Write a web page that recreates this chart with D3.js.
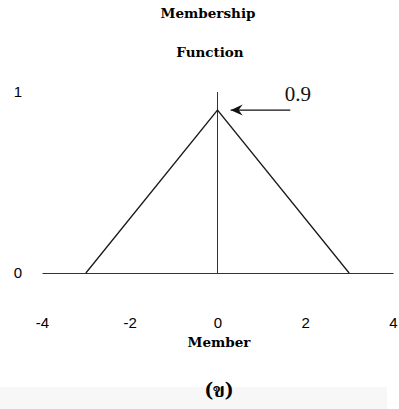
<!DOCTYPE html>
<html>
<head>
<meta charset="utf-8">
<script src="https://cdn.jsdelivr.net/npm/d3@7"></script>
<style>
  html, body { margin: 0; padding: 0; background: #fff; }
</style>
</head>
<body>
<div id="chart"></div>
<script>
// Données du graphique
const xTicks = [-4, -2, 0, 2, 4];
const yTicks = [0, 1];
const memberX = [-3, 0, 3];
const membership = [0, 0.9, 0];
const peakLabel = "0.9";

const W = 399, H = 409;

const svg = d3.select("#chart")
    .append("svg")
    .attr("width", W)
    .attr("height", H);

// bande grise du bas (scan)
svg.append("rect")
    .attr("x", 0).attr("y", 387)
    .attr("width", 387).attr("height", 22)
    .attr("fill", "#f7f7f7");

// Échelles
const x = d3.scaleLinear().domain([-4, 4]).range([42, 393]);
const y = d3.scaleLinear().domain([0, 1]).range([273, 92]);

const sans = "'Liberation Sans', Arial, sans-serif";

// Axe X
const gx = svg.append("g")
    .attr("transform", `translate(0,${y(0)})`)
    .call(d3.axisBottom(x).tickValues(xTicks).tickSize(0).tickPadding(44).tickFormat(d => String(d)));
gx.attr("font-family", sans).attr("font-size", 15);
gx.select(".domain").attr("stroke", "#333").attr("stroke-width", 1);
gx.selectAll("text").style("fill", "#000");

// Axe Y
const gy = svg.append("g")
    .attr("transform", `translate(${x(-4)},0)`)
    .call(d3.axisLeft(y).tickValues(yTicks).tickSize(0).tickFormat(d => String(d)));
gy.attr("font-family", sans).attr("font-size", 15);
gy.select(".domain").remove();
gy.selectAll("text")
    .attr("x", -24)
    .style("text-anchor", "middle")
    .style("fill", "#000");

// Ligne verticale en 0
svg.append("line")
    .attr("x1", x(0)).attr("x2", x(0))
    .attr("y1", y(0)).attr("y2", y(1))
    .attr("stroke", "#333")
    .attr("stroke-width", 1);

// Triangle
const pts = memberX.map((v, i) => [v, membership[i]]);
svg.append("path")
    .datum(pts)
    .attr("d", d3.line().x(d => x(d[0])).y(d => y(d[1])))
    .attr("fill", "none")
    .attr("stroke", "#1a1a1a")
    .attr("stroke-width", 1.3);

// Flèche vers le sommet
svg.append("defs").append("marker")
    .attr("id", "head")
    .attr("viewBox", "0 -6 12 12")
    .attr("refX", 12).attr("refY", 0)
    .attr("markerWidth", 12).attr("markerHeight", 12)
    .attr("markerUnits", "userSpaceOnUse")
    .attr("orient", "auto")
    .append("path")
    .attr("d", "M12,0 L0,-5.5 L4,0 L0,5.5 Z")
    .attr("fill", "#111");

svg.append("line")
    .attr("x1", x(1.66)).attr("x2", x(0.3))
    .attr("y1", y(0.9)).attr("y2", y(0.9))
    .attr("stroke", "#111")
    .attr("stroke-width", 1.3)
    .attr("marker-end", "url(#head)");

svg.append("text")
    .attr("x", x(1.83))
    .attr("y", 101)
    .attr("text-anchor", "middle")
    .style("font-family", "'Liberation Serif', 'Times New Roman', serif")
    .style("font-size", "21px")
    .style("fill", "#111")
    .text(peakLabel);

// Titres
const serifBold = "'DejaVu Serif', Georgia, serif";
function titre(txt, px, py) {
    svg.append("text")
        .attr("x", px).attr("y", py)
        .attr("text-anchor", "middle")
        .style("font-family", serifBold)
        .style("font-weight", "bold")
        .style("font-size", "13.5px")
        .style("fill", "#000")
        .text(txt);
}
titre("Membership", 208, 18);
titre("Function", 210, 57);
titre("Member", 219, 347);

svg.append("text")
    .attr("x", 219).attr("y", 397)
    .attr("text-anchor", "middle")
    .style("font-family", "'Noto Serif Thai', 'Noto Sans Thai', 'DejaVu Serif', serif")
    .style("font-weight", "bold")
    .style("font-size", "20px")
    .style("fill", "#000")
    .text("(ข)");
</script>
</body>
</html>
